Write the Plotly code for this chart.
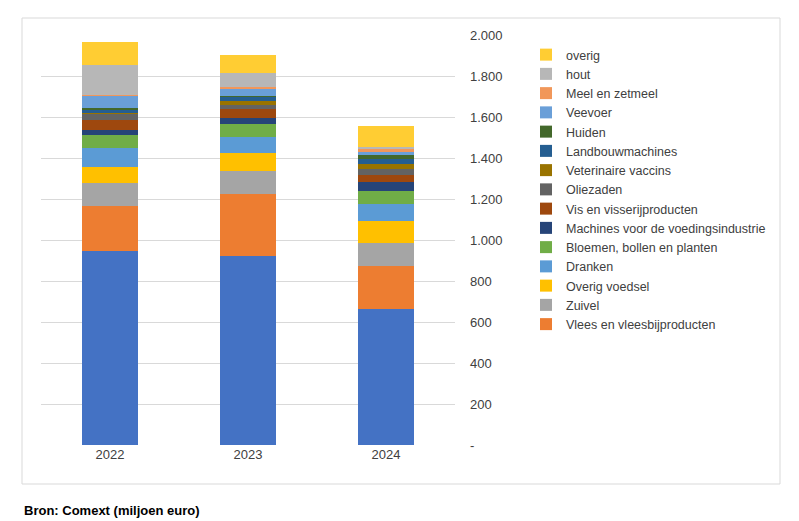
import plotly.graph_objects as go

years = ["2022", "2023", "2024"]
series = ["Overige export", "Vlees en vleesbijproducten", "Zuivel", "Overig voedsel", "Dranken",
          "Bloemen, bollen en planten", "Machines voor de voedingsindustrie",
          "Vis en visserijproducten", "Oliezaden", "Veterinaire vaccins", "Landbouwmachines",
          "Huiden", "Veevoer", "Meel en zetmeel", "hout", "overig"]
values = [
    [948, 922, 664],
    [218, 304, 209],
    [112, 111, 112],
    [79, 85, 108],
    [93, 81, 85],
    [63, 64, 61],
    [24, 29, 46],
    [49, 44, 33],
    [30, 20, 29],
    [4, 16, 24],
    [15, 25, 25],
    [10, 3, 21],
    [59, 31, 13],
    [2, 10, 13],
    [149, 68, 11],
    [112, 88, 103],
]
colors = ["#4472C4", "#ED7D31", "#A5A5A5", "#FFC000", "#5B9BD5", "#70AD47", "#264478",
          "#9E480E", "#636363", "#997300", "#255E91", "#43682B", "#6A9FD8", "#F1975A",
          "#B7B7B7", "#FFCD33"]
tickvals = [0, 200, 400, 600, 800, 1000, 1200, 1400, 1600, 1800, 2000]
ticktext = ["-", "200", "400", "600", "800", "1.000", "1.200", "1.400", "1.600", "1.800", "2.000"]

fig = go.Figure()
for i, (name, vals) in enumerate(zip(series, values)):
    fig.add_trace(go.Bar(x=years, y=vals, name=name, marker_color=colors[i],
                         marker_line_width=0, legendgroup=name, showlegend=i > 0))

l, r, t, b = 33, 352, 27, 84
pw, ph = 799 - l - r, 521 - t - b
fig.update_layout(
    barmode="stack", bargap=0.6, width=799, height=521,
    margin=dict(l=l, r=r, t=t, b=b, autoexpand=False),
    paper_bgcolor="white", plot_bgcolor="white",
    font=dict(family="Liberation Sans", size=13, color="#404040"),
    xaxis=dict(showline=False, ticks="", tickfont=dict(size=13)),
    yaxis=dict(side="right", range=[0, 2000], tickvals=tickvals, ticktext=ticktext,
               gridcolor="#D9D9D9", zeroline=False, ticks="", tickfont=dict(size=13),
               ticklabelstandoff=14),
    legend=dict(x=(518 - l) / pw, y=(437 - 32) / ph, xanchor="left", yanchor="top",
                traceorder="reversed", font=dict(size=12.5), tracegroupgap=8,
                itemwidth=30),
    shapes=[dict(type="rect", xref="paper", yref="paper",
                 x0=(14 - l) / pw, x1=(772 - l) / pw,
                 y0=(437 - 476) / ph, y1=(437 - 10) / ph,
                 line=dict(color="#D9D9D9", width=1))],
    annotations=[dict(text="<b>Bron: Comext (miljoen euro)</b>", xref="paper", yref="paper",
                      x=(14 - l) / pw, y=(437 - 503) / ph, xanchor="left", yanchor="middle",
                      showarrow=False, font=dict(size=13, color="black"))],
)
fig.write_html("out.html")
